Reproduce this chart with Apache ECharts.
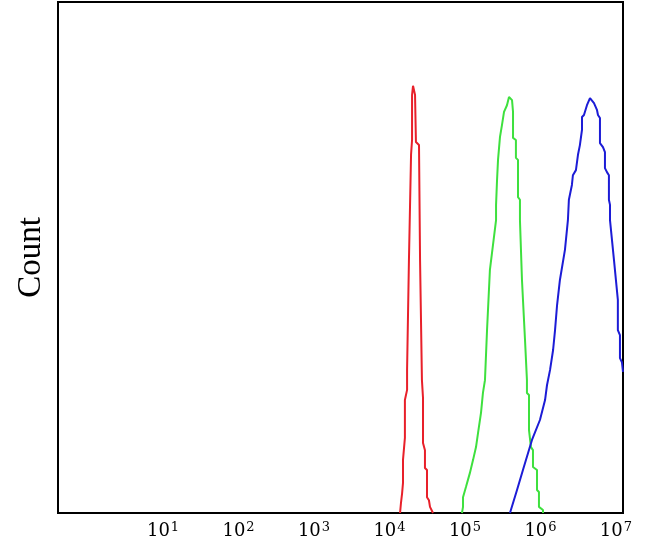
<!DOCTYPE html>
<html>
<head>
<meta charset="utf-8">
<script src="https://cdn.jsdelivr.net/npm/echarts@6/dist/echarts.min.js"></script>
<style>html,body{margin:0;padding:0;background:#fff;}#c{width:652px;height:554px;}</style>
</head>
<body>
<div id="c"></div>
<script>
// Fluorescence intensity (log axis) vs count
const xRange = [0.406, 12400000];
const countRange = [0, 100];
const tickExponents = [1, 2, 3, 4, 5, 6, 7];

const redSeries = [[13800,0],[14200,2.0],[14700,3.9],[15100,5.9],[15100,10.4],[16000,14.7],[16000,22.1],[17100,24.1],[17100,28.0],[18100,49.5],[19300,70.1],[19900,73.0],[19900,81.8],[20500,83.6],[21100,83.6],[21800,81.8],[22400,72.6],[24600,72.0],[25400,49.5],[26900,26.0],[27800,22.5],[27800,13.7],[29500,12.3],[29500,8.8],[31400,8.4],[31400,3.1],[33300,2.5],[34400,1.2],[37700,0]];

const greenSeries = [[91200,0],[94200,1.2],[94200,3.1],[103000,5.1],[116000,7.8],[128000,10.4],[140000,12.9],[149000,15.7],[163000,19.6],[173000,23.5],[184000,26.0],[196000,35.8],[214000,47.6],[258000,57.3],[258000,60.3],[266000,65.2],[274000,69.1],[291000,73.6],[309000,75.9],[329000,78.5],[360000,79.8],[383000,81.4],[420000,80.8],[433000,78.5],[433000,73.4],[473000,73.0],[473000,69.5],[504000,69.1],[504000,61.8],[535000,61.3],[535000,57.3],[569000,45.6],[624000,33.9],[662000,26.0],[662000,23.5],[705000,23.1],[705000,16.2],[748000,15.9],[748000,12.9],[796000,12.3],[796000,9.0],[900000,8.4],[900000,4.5],[955000,4.1],[955000,1.2],[1080000,0.6],[1080000,0]];

const blueSeries = [[394500,0],[489000,4.5],[586000,8.4],[772000,14.3],[984000,18.2],[1150000,22.1],[1220000,25.0],[1340000,28.0],[1470000,31.9],[1560000,35.8],[1660000,40.7],[1810000,45.6],[2110000,51.5],[2310000,57.3],[2380000,61.3],[2610000,64.2],[2690000,66.1],[2950000,67.1],[3140000,70.1],[3330000,72.0],[3550000,75.0],[3550000,77.5],[3770000,77.9],[4130000,79.8],[4530000,81.2],[4810000,81.2],[5120000,80.2],[5600000,78.9],[5780000,77.9],[6140000,77.3],[6140000,72.4],[6730000,71.6],[7150000,70.6],[7150000,67.5],[7600000,66.7],[8070000,66.1],[8070000,61.3],[8340000,60.3],[8340000,57.3],[9420000,49.5],[10600000,41.7],[10600000,35.8],[11300000,34.8],[11300000,30.3],[12000000,29.5],[12400000,27.6]];

const chart = echarts.init(document.getElementById('c'), null, {renderer: 'canvas'});
function mk(data, color) {
  return {type: 'line', data: data, showSymbol: false, symbol: 'none', clip: true,
    lineStyle: {color: color, width: 2}, itemStyle: {color: color}};
}
chart.setOption({
  animation: false,
  grid: {left: 58, top: 2, right: 29, bottom: 41, show: true, borderColor: '#000', borderWidth: 2, backgroundColor: 'transparent'},
  xAxis: {
    type: 'log', logBase: 10, min: xRange[0], max: xRange[1],
    axisLine: {show: false}, axisTick: {show: false}, splitLine: {show: false},
    axisLabel: {
      show: true, interval: 0, margin: 8, showMinLabel: false, showMaxLabel: false,
      fontFamily: 'DejaVu Serif', fontSize: 18, color: '#000',
      formatter: function (v) {
        const l = Math.log10(v), e = Math.round(l);
        if (Math.abs(l - e) > 0.01 || tickExponents.indexOf(e) < 0) return '';
        return '{b|10}{s|' + e + '}';
      },
      rich: {
        b: {fontSize: 18, fontFamily: 'DejaVu Serif', color: '#000'},
        s: {fontSize: 13, fontFamily: 'DejaVu Serif', color: '#000', padding: [0, 0, 7, 1]}
      }
    }
  },
  yAxis: {
    type: 'value', min: countRange[0], max: countRange[1],
    name: 'Count', nameLocation: 'middle', nameGap: 10,
    nameTextStyle: {fontFamily: 'Liberation Serif', fontSize: 33, color: '#000'},
    axisLine: {show: false}, axisTick: {show: false}, axisLabel: {show: false}, splitLine: {show: false}
  },
  series: [mk(redSeries, '#e8202a'), mk(greenSeries, '#3ee03e'), mk(blueSeries, '#1c1cd6')]
});
</script>
</body>
</html>
